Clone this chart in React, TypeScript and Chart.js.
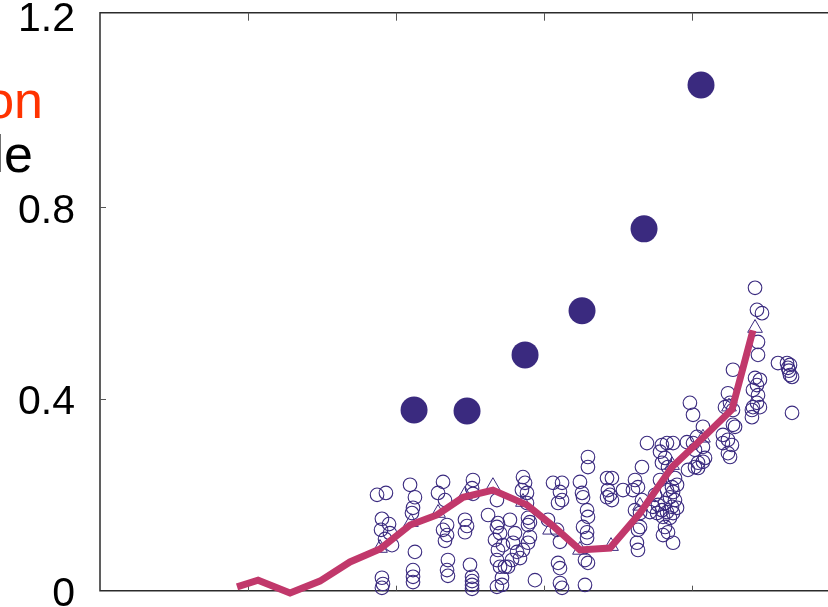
import React, { useEffect, useRef } from 'react';
import { Chart, registerables } from 'chart.js';

Chart.register(...registerables);

// ---- data ----
const yTickValues = [0, 0.4, 0.8, 1.2];
const yTickLabels = ['0', '0.4', '0.8', '1.2'];
const xTickValues = [1, 2, 3, 4];
const legendFragments = ['on', 'le'];

// trend line (mean)
const lineX = [0.926, 1.068, 1.284, 1.486, 1.689, 1.892, 2.095, 2.277, 2.453, 2.655, 2.885, 3.061, 3.243, 3.446, 3.649, 3.865, 4.074, 4.270, 4.412];
const lineY = [0.008, 0.022, -0.005, 0.020, 0.060, 0.087, 0.137, 0.158, 0.195, 0.210, 0.179, 0.135, 0.085, 0.089, 0.162, 0.258, 0.319, 0.378, 0.543];

// triangles (group means)
const triX = [1.892, 2.101, 2.284, 2.466, 2.655, 2.858, 3.041, 3.243, 3.453, 3.649, 3.865, 4.074, 4.250, 4.426];
const triY = [0.089, 0.143, 0.162, 0.200, 0.218, 0.185, 0.127, 0.085, 0.093, 0.177, 0.262, 0.319, 0.384, 0.548];

// large filled circles
const bigX = [2.122, 2.480, 2.872, 3.257, 3.676, 4.061];
const bigY = [0.377, 0.375, 0.492, 0.584, 0.755, 1.055];

// open circles (samples), grouped by column
const samplesA: [number, number][] = [[1.872, 0.200], [1.932, 0.204], [1.905, 0.150], [1.953, 0.139], [1.899, 0.127], [1.959, 0.120], [1.926, 0.108], [1.973, 0.095], [1.905, 0.027], [1.912, 0.014], [1.905, 0.006]];
const samplesB: [number, number][] = [[2.095, 0.221], [2.128, 0.195], [2.115, 0.173], [2.108, 0.162], [2.128, 0.081], [2.115, 0.043], [2.115, 0.029], [2.115, 0.018]];
const samplesC: [number, number][] = [[2.318, 0.227], [2.284, 0.204], [2.331, 0.189], [2.345, 0.137], [2.318, 0.127], [2.345, 0.116], [2.331, 0.104], [2.351, 0.064], [2.345, 0.043], [2.351, 0.031]];
const samplesD: [number, number][] = [[2.520, 0.231], [2.514, 0.214], [2.520, 0.202], [2.466, 0.148], [2.480, 0.135], [2.466, 0.122], [2.500, 0.054], [2.514, 0.029], [2.514, 0.020], [2.514, 0.012], [2.514, 0.004]];
const samplesE: [number, number][] = [[2.622, 0.158], [2.682, 0.189], [2.682, 0.133], [2.689, 0.141], [2.703, 0.120], [2.669, 0.106], [2.723, 0.095], [2.689, 0.085], [2.682, 0.064], [2.703, 0.050], [2.736, 0.050], [2.757, 0.050], [2.716, 0.027], [2.716, 0.012], [2.682, 0.008]];
const samplesF: [number, number][] = [[2.858, 0.237], [2.872, 0.225], [2.851, 0.210], [2.885, 0.204], [2.885, 0.183], [2.892, 0.152], [2.905, 0.143], [2.892, 0.137], [2.770, 0.148], [2.804, 0.120], [2.791, 0.100], [2.818, 0.081], [2.838, 0.068], [2.784, 0.064], [2.892, 0.100], [2.858, 0.085], [2.905, 0.112], [2.939, 0.022]];
const samplesG: [number, number][] = [[3.061, 0.225], [3.122, 0.225], [3.108, 0.206], [3.122, 0.189], [3.095, 0.183], [3.027, 0.148], [3.088, 0.127], [3.108, 0.102], [3.095, 0.058], [3.108, 0.047], [3.108, 0.016], [3.122, 0.006]];
const samplesH: [number, number][] = [[3.297, 0.279], [3.297, 0.258], [3.243, 0.227], [3.257, 0.204], [3.264, 0.195], [3.291, 0.168], [3.297, 0.154], [3.264, 0.133], [3.291, 0.122], [3.291, 0.110], [3.277, 0.064], [3.297, 0.058], [3.277, 0.012]];
const samplesI: [number, number][] = [[3.426, 0.235], [3.459, 0.235], [3.432, 0.210], [3.446, 0.200], [3.426, 0.195], [3.459, 0.189], [3.534, 0.210]];
const samplesJ: [number, number][] = [[3.696, 0.308], [3.662, 0.258], [3.615, 0.231], [3.635, 0.216], [3.601, 0.210], [3.662, 0.189], [3.615, 0.168], [3.649, 0.162], [3.649, 0.133], [3.635, 0.127], [3.628, 0.100], [3.635, 0.085]];
const samplesK: [number, number][] = [[3.797, 0.304], [3.831, 0.308], [3.872, 0.308], [3.784, 0.290], [3.818, 0.277], [3.797, 0.267], [3.838, 0.258], [3.885, 0.235], [3.899, 0.221], [3.865, 0.216], [3.831, 0.210], [3.872, 0.206], [3.851, 0.195], [3.885, 0.189], [3.818, 0.183], [3.770, 0.179], [3.736, 0.175], [3.865, 0.175], [3.899, 0.173], [3.797, 0.168], [3.831, 0.164], [3.872, 0.162], [3.764, 0.162], [3.804, 0.154], [3.851, 0.152], [3.818, 0.133], [3.838, 0.122], [3.804, 0.116], [3.872, 0.100], [3.716, 0.164], [3.750, 0.200], [3.784, 0.231]];
const samplesL: [number, number][] = [[3.986, 0.392], [4.007, 0.367], [4.074, 0.342], [3.966, 0.310], [4.007, 0.308], [4.034, 0.321], [4.020, 0.294], [4.074, 0.300], [4.088, 0.277], [4.041, 0.267], [4.020, 0.258], [3.973, 0.252], [4.074, 0.269], [4.041, 0.256]];
const samplesM: [number, number][] = [[4.277, 0.461], [4.243, 0.412], [4.257, 0.392], [4.223, 0.383], [4.277, 0.377], [4.277, 0.346], [4.291, 0.342], [4.209, 0.325], [4.243, 0.315], [4.209, 0.308], [4.270, 0.304], [4.243, 0.287], [4.257, 0.279]];
const samplesN: [number, number][] = [[4.426, 0.632], [4.439, 0.586], [4.473, 0.579], [4.446, 0.519], [4.446, 0.492], [4.426, 0.444], [4.459, 0.440], [4.439, 0.429], [4.412, 0.419], [4.446, 0.408], [4.412, 0.383], [4.459, 0.383], [4.405, 0.377], [4.405, 0.362], [4.439, 0.392]];
const samplesO: [number, number][] = [[4.581, 0.475], [4.642, 0.475], [4.662, 0.471], [4.649, 0.465], [4.662, 0.450], [4.676, 0.446], [4.676, 0.371], [4.655, 0.459]];

const allSamples = [
  ...samplesA, ...samplesB, ...samplesC, ...samplesD, ...samplesE,
  ...samplesF, ...samplesG, ...samplesH, ...samplesI, ...samplesJ,
  ...samplesK, ...samplesL, ...samplesM, ...samplesN, ...samplesO,
];

const X_MIN = 0;
const X_MAX = 4.919;
const Y_MIN = 0;
const Y_MAX = 1.206;

const MARK = '#3a2a7f';
const LINE = '#c1386b';
const AXIS = '#2b2b2b';
const FONT = '"Liberation Sans", Arial, Helvetica, sans-serif';

const framePlugin = {
  id: 'frame',
  beforeDatasetsDraw(chart: any) {
    const { ctx, chartArea } = chart;
    const xs = chart.scales.x;
    const ys = chart.scales.y;
    const { left, top, bottom } = chartArea;
    const right = chart.width;
    ctx.save();
    ctx.strokeStyle = AXIS;
    ctx.lineWidth = 1.5;
    ctx.beginPath();
    ctx.moveTo(right, top);
    ctx.lineTo(left, top);
    ctx.lineTo(left, bottom);
    ctx.lineTo(right, bottom);
    ctx.stroke();
    ctx.lineWidth = 1;
    ctx.strokeStyle = '#555';
    ctx.beginPath();
    for (const v of xTickValues) {
      const px = Math.round(xs.getPixelForValue(v)) + 0.5;
      ctx.moveTo(px, bottom);
      ctx.lineTo(px, bottom - 5);
      ctx.moveTo(px, top);
      ctx.lineTo(px, top + 8);
    }
    for (const v of yTickValues.slice(1, 3)) {
      const py = Math.round(ys.getPixelForValue(v)) + 0.5;
      ctx.moveTo(left, py);
      ctx.lineTo(left + 6, py);
    }
    ctx.stroke();
    ctx.restore();
  },
  afterDraw(chart: any) {
    const { ctx } = chart;
    ctx.save();
    ctx.font = `52px ${FONT}`;
    ctx.textAlign = 'right';
    ctx.textBaseline = 'alphabetic';
    ctx.fillStyle = '#ff3300';
    ctx.fillText(legendFragments[0], 43, 118);
    ctx.fillStyle = '#000000';
    ctx.fillText(legendFragments[1], 33, 172);
    ctx.restore();
  },
};

export default function App() {
  const ref = useRef<HTMLCanvasElement | null>(null);

  useEffect(() => {
    document.body.style.margin = '0';
    const canvas = ref.current;
    if (!canvas) return;
    const chart = new Chart(canvas, {
      type: 'scatter',
      data: {
        datasets: [
          {
            type: 'line',
            label: 'mean',
            data: lineX.map((x, i) => ({ x, y: lineY[i] })),
            borderColor: LINE,
            borderWidth: 7,
            borderJoinStyle: 'miter',
            borderCapStyle: 'butt',
            pointRadius: 0,
            fill: false,
            tension: 0,
            order: 0,
            clip: false,
          } as any,
          {
            label: 'group mean',
            data: triX.map((x, i) => ({ x, y: triY[i] })),
            pointStyle: 'triangle',
            pointRadius: 8.5,
            borderColor: MARK,
            borderWidth: 1,
            backgroundColor: 'rgba(0,0,0,0)',
            order: 1,
            clip: false,
          } as any,
          {
            label: 'samples',
            data: allSamples.map(([x, y]) => ({ x, y })),
            pointStyle: 'circle',
            pointRadius: 6.8,
            borderColor: MARK,
            borderWidth: 1.1,
            backgroundColor: 'rgba(0,0,0,0)',
            order: 2,
            clip: false,
          } as any,
          {
            label: 'summary',
            data: bigX.map((x, i) => ({ x, y: bigY[i] })),
            pointStyle: 'circle',
            pointRadius: 13.5,
            borderWidth: 0,
            backgroundColor: MARK,
            order: 3,
            clip: false,
          } as any,
        ],
      },
      options: {
        animation: false,
        responsive: false,
        maintainAspectRatio: false,
        layout: { autoPadding: false, padding: { top: 12.7, bottom: 16.3, left: 0, right: 0 } },
        plugins: {
          legend: { display: false },
          tooltip: { enabled: false },
        },
        scales: {
          x: {
            type: 'linear',
            min: X_MIN,
            max: X_MAX,
            display: false,
          },
          y: {
            type: 'linear',
            min: Y_MIN,
            max: Y_MAX,
            grid: { display: false, drawTicks: false },
            border: { display: false },
            afterBuildTicks: (s: any) => {
              s.ticks = yTickValues.map((v) => ({ value: v }));
            },
            afterFit: (s: any) => {
              s.width = 100;
              s.paddingTop = 0;
              s.paddingBottom = 0;
            },
            ticks: {
              padding: 25,
              labelOffset: 4,
              color: '#000000',
              font: { family: FONT, size: 41 },
              callback: (v: any) => {
                const idx = yTickValues.findIndex((t) => Math.abs(t - Number(v)) < 1e-9);
                return idx >= 0 ? yTickLabels[idx] : '';
              },
            },
          },
        },
      } as any,
      plugins: [framePlugin],
    });
    return () => chart.destroy();
  }, []);

  return (
    <div style={{ width: 828, height: 607, position: 'relative' }}>
      <canvas ref={ref} width={828} height={607} style={{ display: 'block' }} />
    </div>
  );
}
